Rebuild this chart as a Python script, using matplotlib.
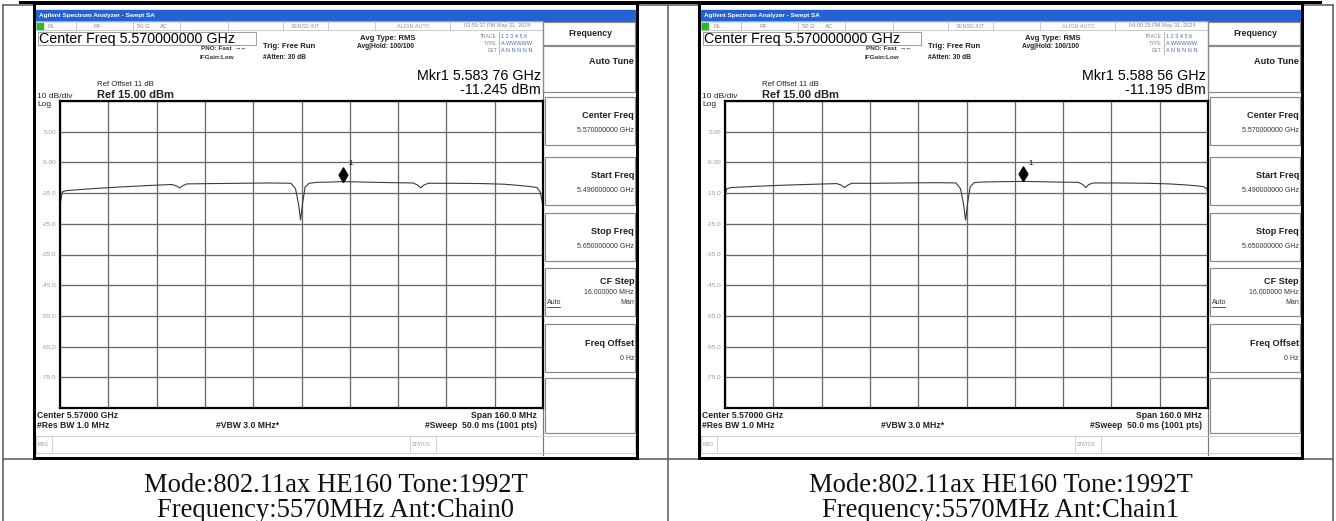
import matplotlib
matplotlib.use('Agg')
import matplotlib.pyplot as plt
from matplotlib.patches import Rectangle
from matplotlib.path import Path

# ---- data ----
chain0_freq = [5.4900, 5.4903, 5.4908, 5.4920, 5.5000, 5.5100, 5.5200, 5.5270, 5.5285, 5.5296,
               5.5307, 5.5320, 5.5400, 5.5500, 5.5600, 5.5665, 5.5680, 5.5690, 5.5697, 5.5704,
               5.5712, 5.5725, 5.5750, 5.5800, 5.58376, 5.5900, 5.6000, 5.6070, 5.6085, 5.6095,
               5.6105, 5.6120, 5.6200, 5.6300, 5.6370, 5.6420, 5.6460, 5.6480, 5.6490, 5.6496, 5.6500]
chain0_dbm = [-19.5, -17.0, -14.6, -14.2, -13.6, -13.0, -12.5, -12.2, -12.6, -13.3,
              -12.6, -12.0, -11.9, -11.8, -11.7, -11.8, -13.5, -18.5, -23.8, -18.0,
              -13.0, -11.8, -11.5, -11.4, -11.245, -11.4, -11.6, -11.7, -12.4, -13.3,
              -12.4, -11.8, -11.8, -11.9, -12.1, -12.5, -12.9, -13.2, -14.5, -17.0, -19.5]

chain1_freq = [5.4900, 5.4905, 5.4920, 5.5000, 5.5100, 5.5200, 5.5270, 5.5285, 5.5296, 5.5307,
               5.5320, 5.5400, 5.5500, 5.5600, 5.5665, 5.5680, 5.5690, 5.5697, 5.5704, 5.5712,
               5.5725, 5.5750, 5.5800, 5.58856, 5.5950, 5.6000, 5.6070, 5.6085, 5.6095, 5.6105,
               5.6120, 5.6200, 5.6300, 5.6370, 5.6420, 5.6460, 5.6485, 5.6495, 5.6500]
chain1_dbm = [-16.5, -13.6, -13.2, -12.8, -12.4, -12.1, -11.9, -12.4, -13.2, -12.4,
              -11.8, -11.8, -11.7, -11.6, -11.7, -13.5, -18.5, -23.8, -18.0, -13.0,
              -11.6, -11.4, -11.3, -11.195, -11.3, -11.4, -11.5, -12.2, -13.2, -12.2,
              -11.7, -11.7, -11.8, -12.0, -12.3, -12.6, -12.9, -13.5, -14.5]

marker_freq = [5.58376, 5.58856]
marker_dbm = [-11.245, -11.195]
marker_text = ['Mkr1 5.583 76 GHz', 'Mkr1 5.588 56 GHz']
marker_level = ['-11.245 dBm', '-11.195 dBm']
timestamps = ['03:59:37 PM May 31, 2024', '04:00:25 PM May 31, 2024']
captions = [('Mode:802.11ax HE160 Tone:1992T', 'Frequency:5570MHz Ant:Chain0'),
            ('Mode:802.11ax HE160 Tone:1992T', 'Frequency:5570MHz Ant:Chain1')]

f_start, f_stop = 5.49, 5.65
ref_level, db_div = 15.0, 10.0
y_labels = ['5.00', '-5.00', '-15.0', '-25.0', '-35.0', '-45.0', '-55.0', '-65.0', '-75.0']

softkeys = [('Center Freq', '5.570000000 GHz'), ('Start Freq', '5.490000000 GHz'),
            ('Stop Freq', '5.650000000 GHz'), ('CF Step', '16.000000 MHz'),
            ('Freq Offset', '0 Hz')]

W, H = 1336, 521
SANS = 'Liberation Sans'
SERIF = 'Liberation Serif'


def px(v):
    # pixels -> points at dpi 100
    return v * 0.72


fig = plt.figure(figsize=(W / 100, H / 100), dpi=100)
cv = fig.add_axes([0, 0, 1, 1])
cv.set_xlim(0, W)
cv.set_ylim(H, 0)
cv.axis('off')

# table frame
tcol = '#555555'
cv.plot([3, 1333], [5, 5], color=tcol, lw=px(1.5))
for x in (3, 668, 1333):
    cv.plot([x, x], [5, H], color=tcol, lw=px(1.5))
cv.plot([3, 1333], [459, 459], color=tcol, lw=px(1.5))


def t(x, y, s, size=5, weight='normal', color='#111111', ha='left', family=SANS):
    cv.text(x, y, s, fontsize=size, fontweight=weight, color=color, ha=ha, va='center',
            family=[family, 'DejaVu Sans'])


def box(x, y, w, h, ec='#8a8a8a', lw=1.0, fc='none', z=1):
    cv.add_patch(Rectangle((x, y), w, h, ec=ec, fc=fc, lw=px(lw), zorder=z))


def draw_screen(i, freq, dbm):
    dx = 665 * i
    # outer frame of the screenshot
    box(34 + dx, 3, 603, 455, ec='black', lw=3, fc='white', z=2)
    cv.add_patch(Rectangle((36 + dx, 9.5), 599, 11.5, color='#2462d4', zorder=3))
    t(39 + dx, 15, 'Agilent Spectrum Analyzer - Swept SA', 4.6, 'bold', 'white')

    # status row
    box(36 + dx, 21, 507, 9, ec='#bdbdbd', lw=0.8, z=3)
    for x in (76, 133, 180, 228, 283, 328, 375, 450):
        cv.plot([x + dx, x + dx], [21, 30], color='#bdbdbd', lw=px(0.8), zorder=3)
    cv.add_patch(Rectangle((37 + dx, 22.5), 6, 6, color='#2db52d', zorder=4))
    for x, s in ((48, 'RL'), (94, 'RF'), (137, '50 Ω'), (160, 'AC')):
        t(x + dx, 26, s, 4.2, color='#8a8a8a')
    t(305 + dx, 26, 'SENSE:INT', 4.0, color='#9a9a9a', ha='center')
    t(413 + dx, 26, 'ALIGN AUTO', 4.0, color='#9a9a9a', ha='center')
    t(497 + dx, 26, timestamps[i], 4.0, color='#8a8a8a', ha='center')

    # header info
    box(38 + dx, 31.5, 218, 13, ec='#888888', lw=0.8, z=3)
    t(39 + dx, 39.5, 'Center Freq 5.570000000 GHz', 10.3, color='#000000')
    t(232 + dx, 48, 'PNO: Fast', 4.6, 'bold', '#333333', ha='right')
    t(235 + dx, 48, '→←', 4.6, 'bold', '#333333')
    t(234 + dx, 57.5, 'IFGain:Low', 4.6, 'bold', '#333333', ha='right')
    t(263 + dx, 47, 'Trig: Free Run', 5.6, 'bold', '#222222')
    t(263 + dx, 57.5, '#Atten: 30 dB', 4.8, 'bold', '#222222')
    t(360 + dx, 38, 'Avg Type: RMS', 5.6, 'bold', '#222222')
    t(357 + dx, 46, 'Avg|Hold: 100/100', 4.8, 'bold', '#222222')
    cv.plot([499 + dx, 499 + dx], [32, 54], color='#aaaaaa', lw=px(0.8), zorder=3)
    for y, lab, val in ((36, 'TRACE', '1 2 3 4 5 6'), (43.5, 'TYPE', 'A WWWWW'),
                        (51, 'DET', 'A N N N N N')):
        t(497 + dx, y, lab, 3.6, color='#888888', ha='right')
        t(501 + dx, y, val, 4.0, color='#5068b0')
    t(541 + dx, 75.5, marker_text[i], 10.3, color='#000000', ha='right')
    t(541 + dx, 90, marker_level[i], 10.3, color='#000000', ha='right')
    t(97 + dx, 84, 'Ref Offset 11 dB', 5.6, color='#222222')
    t(97 + dx, 95, 'Ref 15.00 dBm', 8.0, 'bold', '#222222')
    t(37 + dx, 97, '10 dB/div', 6.0, color='#222222')
    t(37 + dx, 104, 'Log', 6.0, color='#222222')

    # softkey column
    cv.plot([543 + dx, 543 + dx], [21, 455], color='#777777', lw=px(1.2), zorder=3)
    box(543 + dx, 22, 92, 23, lw=1.2, z=3)
    t(590 + dx, 33.5, 'Frequency', 6.2, 'bold', '#222222', ha='center')
    box(543 + dx, 46, 92, 46, lw=1.2, z=3)
    t(634 + dx, 62, 'Auto Tune', 6.6, 'bold', '#222222', ha='right')
    tops = [97, 157, 213, 268, 324]
    for (lab, val), y0 in zip(softkeys, tops):
        box(545 + dx, y0, 90, 48, lw=1.2, z=3)
        if lab == 'CF Step':
            t(634 + dx, y0 + 13, lab, 6.6, 'bold', '#222222', ha='right')
            t(634 + dx, y0 + 24, val, 5.0, color='#333333', ha='right')
            t(547 + dx, y0 + 35, 'Auto', 5.0, color='#333333')
            cv.plot([547 + dx, 560 + dx], [y0 + 38.5, y0 + 38.5], color='#333333', lw=px(0.8), zorder=4)
            t(634 + dx, y0 + 35, 'Man', 5.0, color='#333333', ha='right')
        else:
            t(634 + dx, y0 + 19, lab, 6.6, 'bold', '#222222', ha='right')
            t(634 + dx, y0 + 34, val, 5.0, color='#333333', ha='right')
    box(545 + dx, 378, 90, 55, lw=1.2, z=3)

    # footer
    t(37 + dx, 415, 'Center 5.57000 GHz', 6.2, 'bold', '#222222')
    t(37 + dx, 426, '#Res BW 1.0 MHz', 6.2, 'bold', '#222222')
    t(216 + dx, 426, '#VBW 3.0 MHz*', 6.2, 'bold', '#222222')
    t(537 + dx, 415, 'Span 160.0 MHz', 6.2, 'bold', '#222222', ha='right')
    t(537 + dx, 426, '#Sweep  50.0 ms (1001 pts)', 6.2, 'bold', '#222222', ha='right')
    box(36 + dx, 436, 599, 17, ec='#c8c8c8', lw=0.8, z=3)
    box(36 + dx, 436, 16, 17, ec='#c8c8c8', lw=0.8, z=3)
    box(410 + dx, 436, 26, 17, ec='#c8c8c8', lw=0.8, z=3)
    t(38 + dx, 444.5, 'MSG', 3.6, color='#999999')
    t(412 + dx, 444.5, 'STATUS', 3.6, color='#999999')

    # spectrum trace area
    left, top, right, bottom = 60 + dx, 101, 543 + dx, 408
    ax = fig.add_axes([left / W, 1 - bottom / H, (right - left) / W, (bottom - top) / H])
    ax.set_xlim(f_start, f_stop)
    ax.set_ylim(ref_level - 10 * db_div, ref_level)
    ax.set_xticks([f_start + k * (f_stop - f_start) / 10 for k in range(11)])
    ax.set_xticklabels([])
    ax.set_yticks([ref_level - k * db_div for k in range(11)])
    ax.set_yticklabels([''] + y_labels + [''], fontsize=4.6, color='#999999', family=SANS)
    ax.tick_params(length=0, pad=2.5)
    ax.grid(True, color='#6a6a6a', lw=px(1.3))
    for sp in ax.spines.values():
        sp.set_linewidth(px(2.2))
    ax.plot(freq, dbm, color='#3c3c3c', lw=0.8)
    diamond = Path([(0, 0), (0.6, 1), (0, 2), (-0.6, 1), (0, 0)])
    ax.plot([marker_freq[i]], [marker_dbm[i]], marker=diamond, ms=21, color='black', ls='none')
    ax.annotate('1', (marker_freq[i], marker_dbm[i]), xytext=(4, 12), textcoords='offset points',
                fontsize=5.5, family=SANS)

    # caption in the table cell
    cx = (3 + 668) / 2 + 665 * i
    t(cx, 486, captions[i][0], 19.2, ha='center', family=SERIF)
    t(cx, 510.5, captions[i][1], 19.2, ha='center', family=SERIF)


draw_screen(0, chain0_freq, chain0_dbm)
draw_screen(1, chain1_freq, chain1_dbm)

# black bar along the very top
cv.plot([20, 1320], [1.5, 1.5], color='black', lw=px(3), zorder=5)

fig.savefig('out.png', dpi=100)
